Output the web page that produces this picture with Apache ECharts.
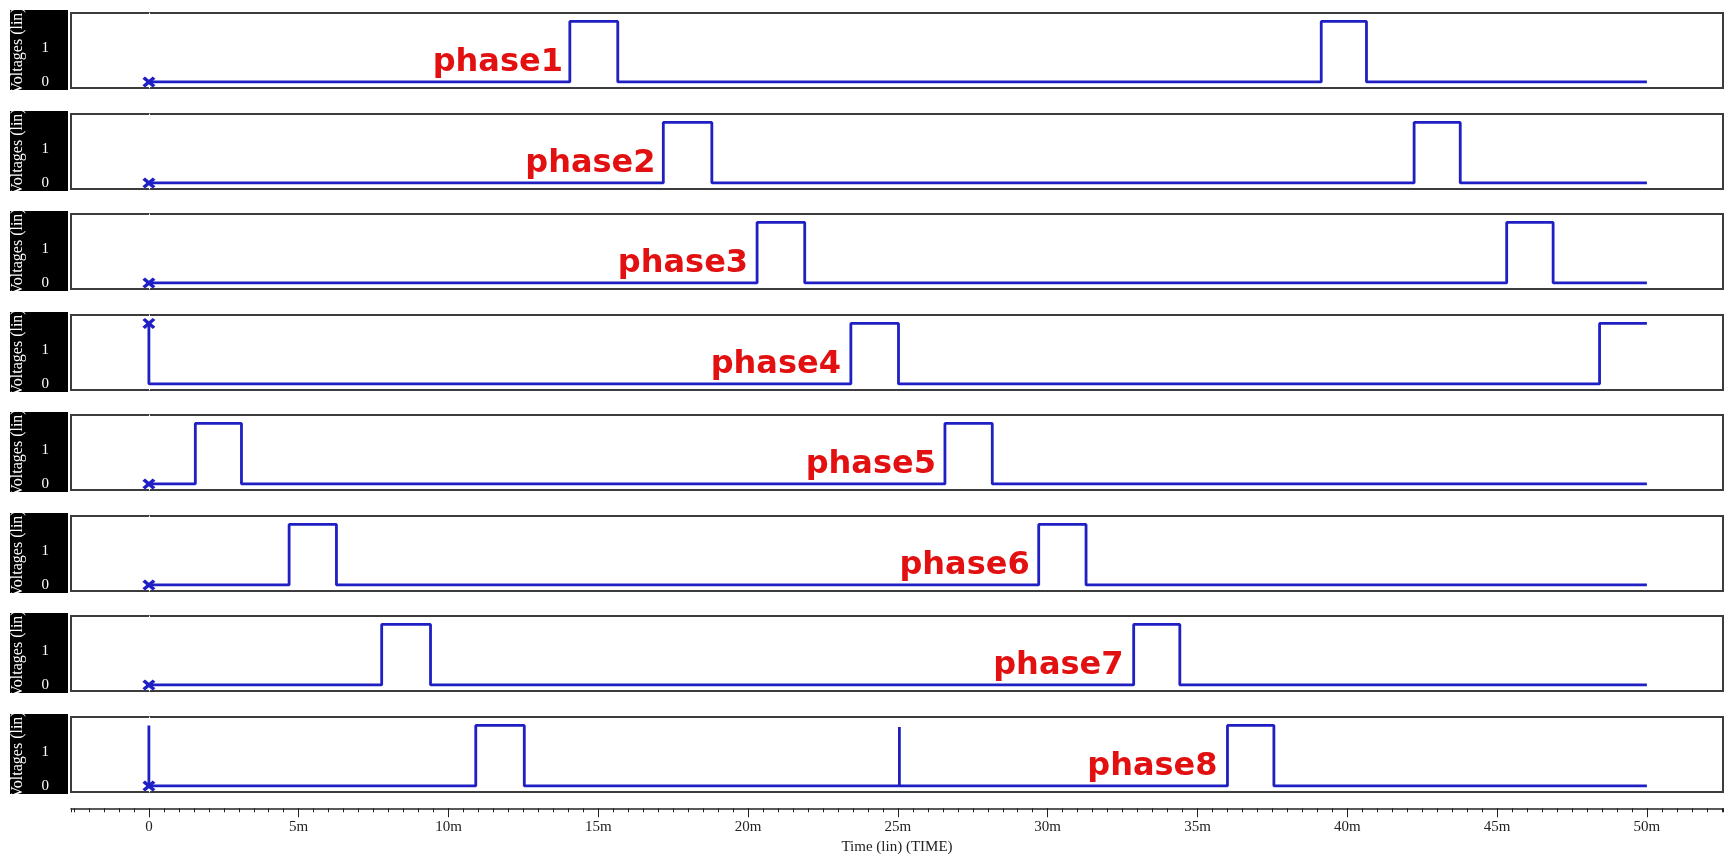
<!DOCTYPE html>
<html style="height: 100%">

<head>
	<meta charset="utf-8">
	<script src="https://cdn.jsdelivr.net/npm/echarts@6/dist/echarts.min.js"></script>
</head>

<body style="height: 100%; margin: 0; background: #fff">
	<div id="container" style="width: 1731px; height: 854px"></div>
	<script type="text/javascript">
		// waveform points [time (ms), volts]
		let phase1 = [[0, 0], [14.05, 0], [14.05, 1.8], [15.65, 1.8], [15.65, 0], [39.13, 0], [39.13, 1.8], [40.64, 1.8], [40.64, 0], [50, 0]];
		let phase2 = [[0, 0], [17.17, 0], [17.17, 1.8], [18.79, 1.8], [18.79, 0], [42.23, 0], [42.23, 1.8], [43.77, 1.8], [43.77, 0], [50, 0]];
		let phase3 = [[0, 0], [20.30, 0], [20.30, 1.8], [21.89, 1.8], [21.89, 0], [45.32, 0], [45.32, 1.8], [46.87, 1.8], [46.87, 0], [50, 0]];
		let phase4 = [[0, 1.8], [0, 0], [23.43, 0], [23.43, 1.8], [25.02, 1.8], [25.02, 0], [48.42, 0], [48.42, 1.8], [50, 1.8]];
		let phase5 = [[0, 0], [1.55, 0], [1.55, 1.8], [3.09, 1.8], [3.09, 0], [26.57, 0], [26.57, 1.8], [28.15, 1.8], [28.15, 0], [50, 0]];
		let phase6 = [[0, 0], [4.68, 0], [4.68, 1.8], [6.26, 1.8], [6.26, 0], [29.70, 0], [29.70, 1.8], [31.28, 1.8], [31.28, 0], [50, 0]];
		let phase7 = [[0, 0], [7.77, 0], [7.77, 1.8], [9.40, 1.8], [9.40, 0], [32.87, 0], [32.87, 1.8], [34.41, 1.8], [34.41, 0], [50, 0]];
		let phase8 = [[0, 0], [0, 1.8], [0, 0], [10.91, 0], [10.91, 1.8], [12.53, 1.8], [12.53, 0], [25.05, 0], [25.05, 1.75], [25.05, 0], [36.00, 0], [36.00, 1.8], [37.55, 1.8], [37.55, 0], [50, 0]];

		let phaseNames = ['phase1', 'phase2', 'phase3', 'phase4', 'phase5', 'phase6', 'phase7', 'phase8'];
		let phaseData = [phase1, phase2, phase3, phase4, phase5, phase6, phase7, phase8];
		// where each red label ends (time) and its height (volts)
		let labelTime = [13.82, 16.91, 20.0, 23.1, 26.27, 29.4, 32.53, 35.67];
		let labelVolt = 0.58;

		let timeTicks = [0, 5, 10, 15, 20, 25, 30, 35, 40, 45, 50];
		let voltTicks = [0, 1, 2];
		let voltLabels = [0, 1];

		let dom = document.getElementById("container");
		let myChart = echarts.init(dom, null, { renderer: 'canvas' });

		const X_MIN = -2.6, X_MAX = 52.54;
		const GRID_LEFT = 71, GRID_RIGHT = 8, GRID_TOP = 13, GRID_H = 75, GRID_STEP = 100.57;
		const BLUE = '#1f1fc4';
		const cross = 'path://M0,2L2,0L5,3L8,0L10,2L7,5L10,8L8,10L5,7L2,10L0,8L3,5Z';

		let grids = [], xAxes = [], yAxes = [], series = [], graphics = [];

		for (let i = 0; i < 8; i++) {
			let top = Math.round(GRID_TOP + i * GRID_STEP);
			grids.push({
				left: GRID_LEFT, right: GRID_RIGHT, top: top, height: GRID_H,
				show: true, borderColor: '#3c3c3c', borderWidth: 2, backgroundColor: '#fff'
			});
			xAxes.push({ gridIndex: i, type: 'value', min: X_MIN, max: X_MAX, show: false });
			yAxes.push({
				gridIndex: i, type: 'value', min: -0.18, max: 2.05, offset: 5,
				axisLine: { show: true, lineStyle: { color: '#fff', width: 1 } },
				axisTick: { show: true, length: 6, lineStyle: { color: '#fff' }, customValues: voltTicks },
				axisLabel: { color: '#fff', fontFamily: 'Liberation Serif', fontSize: 15, margin: 17, customValues: voltLabels },
				splitLine: { show: false },
				name: 'Voltages (lin)', nameLocation: 'middle', nameGap: 40, nameRotate: 90,
				nameTextStyle: {
					color: '#fff', fontFamily: 'Liberation Serif', fontSize: 16,
					width: 76, overflow: 'truncate', ellipsis: ''
				}
			});
			// black label box behind the y axis
			graphics.push({
				type: 'rect', z: -1, silent: true,
				shape: { x: 10, y: top - 3, width: 58, height: GRID_H + 5 },
				style: { fill: '#000' }
			});

			let pts = phaseData[i].map(function (p, k) {
				if (k === 0) {
					return { value: p, symbol: cross, symbolSize: [13, 11], itemStyle: { color: BLUE } };
				}
				return p;
			});
			series.push({
				name: phaseNames[i], type: 'line', xAxisIndex: i, yAxisIndex: i,
				data: pts, symbol: 'none', showSymbol: true,
				lineStyle: { color: BLUE, width: 2.8 },
				itemStyle: { color: BLUE },
				markPoint: {
					symbol: 'circle', symbolSize: 0,
					label: {
						show: true, position: 'left', distance: 0,
						formatter: phaseNames[i],
						color: '#e21010', fontFamily: 'DejaVu Sans', fontWeight: 'bold', fontSize: 32
					},
					data: [{ coord: [labelTime[i], labelVolt] }]
				}
			});
		}

		// time ruler under the panels
		grids.push({ left: GRID_LEFT, right: GRID_RIGHT, top: 808, height: 1, show: false });
		let minorTicks = [X_MIN];
		for (let t = -2.5; t <= 52.5; t += 0.5) minorTicks.push(t);
		minorTicks.push(X_MAX);
		xAxes.push({
			gridIndex: 8, type: 'value', min: X_MIN, max: X_MAX, position: 'bottom',
			axisLine: { show: true, lineStyle: { color: '#222', width: 1.5 } },
			axisTick: { show: true, length: 9, lineStyle: { color: '#222' }, customValues: timeTicks },
			axisLabel: {
				color: '#222', fontFamily: 'Liberation Serif', fontSize: 15, margin: 11,
				customValues: timeTicks,
				formatter: function (v) { return v === 0 ? '0' : v + 'm'; }
			},
			splitLine: { show: false },
			name: 'Time (lin) (TIME)', nameLocation: 'middle', nameGap: 31,
			nameTextStyle: { color: '#222', fontFamily: 'Liberation Serif', fontSize: 15 }
		});
		xAxes.push({
			gridIndex: 8, type: 'value', min: X_MIN, max: X_MAX, position: 'bottom',
			axisLine: { show: false },
			axisTick: { show: true, length: 4, lineStyle: { color: '#222' }, customValues: minorTicks },
			axisLabel: { show: false },
			splitLine: { show: false }
		});
		yAxes.push({ gridIndex: 8, type: 'value', show: false, min: 0, max: 1 });

		let option = {
			animation: false,
			backgroundColor: '#fff',
			grid: grids,
			xAxis: xAxes,
			yAxis: yAxes,
			series: series,
			graphic: graphics
		};
		myChart.setOption(option);
	</script>
</body>

</html>
